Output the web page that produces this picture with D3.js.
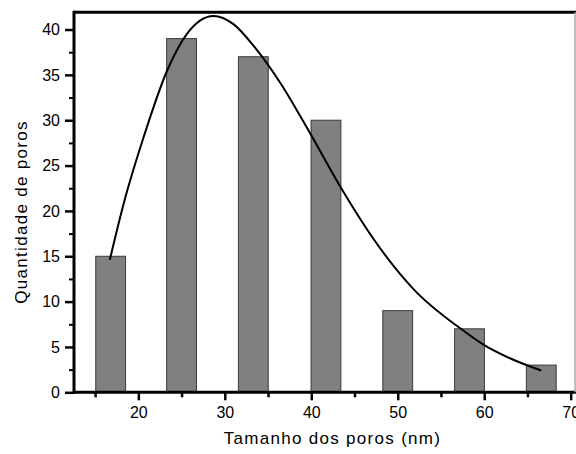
<!DOCTYPE html>
<html>
<head>
<meta charset="utf-8">
<script src="https://cdn.jsdelivr.net/npm/d3@7"></script>
<style>
  body { margin: 0; background: #fff; }
  text { font-family: "Liberation Sans", Arial, sans-serif; fill: #000; }
</style>
</head>
<body>
<div id="chart"></div>
<script>
// histogram bins (nm) and counts
const binCenters = [16.8, 25.0, 33.3, 41.7, 50.0, 58.3, 66.6]
const counts = [15, 39, 37, 30, 9, 7, 3]

// fitted curve
const fitX = [16.7, 18.5, 20.6, 23.3, 25.6, 28.7, 31.0, 33.5, 36.5, 39.9, 43.4, 47.2, 51.9, 57.3, 60.0, 63.1, 66.6]
const fitY = [14.6, 21.5, 28.1, 35.4, 39.5, 41.5, 40.6, 38.0, 34.0, 28.5, 22.6, 16.9, 11.3, 7.0, 5.2, 3.7, 2.4]

const xTicks = [20, 30, 40, 50, 60, 70]
const xMinor = [15, 25, 35, 45, 55, 65]
const yTicks = [0, 5, 10, 15, 20, 25, 30, 35, 40]
const yMinor = [2.5, 7.5, 12.5, 17.5, 22.5, 27.5, 32.5, 37.5]

const W = 576, H = 454
const plotLeft = 74, plotRight = 575, plotTop = 12.3, plotBottom = 392.3
const barWidth = 3.45

const svg = d3.select("#chart").append("svg")
    .attr("width", W)
    .attr("height", H)

const x = d3.scaleLinear().domain([12.56, 70.5]).range([plotLeft, plotRight])
const y = d3.scaleLinear().domain([0, 41.9]).range([plotBottom, plotTop])

// bars
svg.selectAll(".bar")
    .data(counts)
    .enter().append("rect")
    .attr("class", "bar")
    .attr("x", (d, i) => x(binCenters[i] - barWidth / 2))
    .attr("y", d => y(d))
    .attr("width", (d, i) => x(binCenters[i] + barWidth / 2) - x(binCenters[i] - barWidth / 2))
    .attr("height", d => plotBottom - y(d))
    .style("fill", "#808080")
    .style("stroke", "#3a3a3a")
    .style("stroke-width", 1)

// fit line
const line = d3.line()
    .x(d => x(d[0]))
    .y(d => y(d[1]))
    .curve(d3.curveMonotoneX)

svg.append("path")
    .datum(fitX.map((v, i) => [v, fitY[i]]))
    .attr("d", line)
    .style("fill", "none")
    .style("stroke", "#000")
    .style("stroke-width", 2)

// axes
const xAxis = svg.append("g")
    .attr("transform", "translate(0," + plotBottom + ")")
    .call(d3.axisBottom(x).tickValues(xTicks).tickSize(8).tickPadding(6).tickFormat(d3.format("d")))
xAxis.select(".domain").remove()
xAxis.selectAll(".tick line").style("stroke-width", 2.5)
xAxis.selectAll("text").style("font-size", "16px")

const xMinorAxis = svg.append("g")
    .attr("transform", "translate(0," + plotBottom + ")")
    .call(d3.axisBottom(x).tickValues(xMinor).tickSize(5).tickFormat(""))
xMinorAxis.select(".domain").remove()
xMinorAxis.selectAll(".tick line").style("stroke-width", 2.5)

const yAxis = svg.append("g")
    .attr("transform", "translate(" + plotLeft + ",0)")
    .call(d3.axisLeft(y).tickValues(yTicks).tickSize(9).tickPadding(5).tickFormat(d3.format("d")))
yAxis.select(".domain").remove()
yAxis.selectAll(".tick line").style("stroke-width", 2.5)
yAxis.selectAll("text").style("font-size", "16px")

const yMinorAxis = svg.append("g")
    .attr("transform", "translate(" + plotLeft + ",0)")
    .call(d3.axisLeft(y).tickValues(yMinor).tickSize(5).tickFormat(""))
yMinorAxis.select(".domain").remove()
yMinorAxis.selectAll(".tick line").style("stroke-width", 2)

// frame
svg.append("line")
    .attr("x1", plotLeft).attr("x2", W).attr("y1", plotTop).attr("y2", plotTop)
    .style("stroke", "#000").style("stroke-width", 3)
svg.append("line")
    .attr("x1", plotLeft).attr("x2", plotLeft).attr("y1", plotTop - 1.5).attr("y2", plotBottom + 1.5)
    .style("stroke", "#000").style("stroke-width", 3)
svg.append("line")
    .attr("x1", plotLeft).attr("x2", W).attr("y1", plotBottom).attr("y2", plotBottom)
    .style("stroke", "#000").style("stroke-width", 3)
svg.append("line")
    .attr("x1", plotRight).attr("x2", plotRight).attr("y1", plotTop).attr("y2", plotBottom)
    .style("stroke", "#aaa").style("stroke-width", 1.5)

// titles
svg.append("text")
    .attr("x", (plotLeft + plotRight) / 2 + 8)
    .attr("y", 444)
    .style("text-anchor", "middle")
    .style("font-size", "17px")
    .style("letter-spacing", "1.3px")
    .text("Tamanho dos poros (nm)")

svg.append("text")
    .attr("transform", "translate(27,212) rotate(-90)")
    .style("text-anchor", "middle")
    .style("font-size", "17px")
    .style("letter-spacing", "1.3px")
    .text("Quantidade de poros")
</script>
</body>
</html>
